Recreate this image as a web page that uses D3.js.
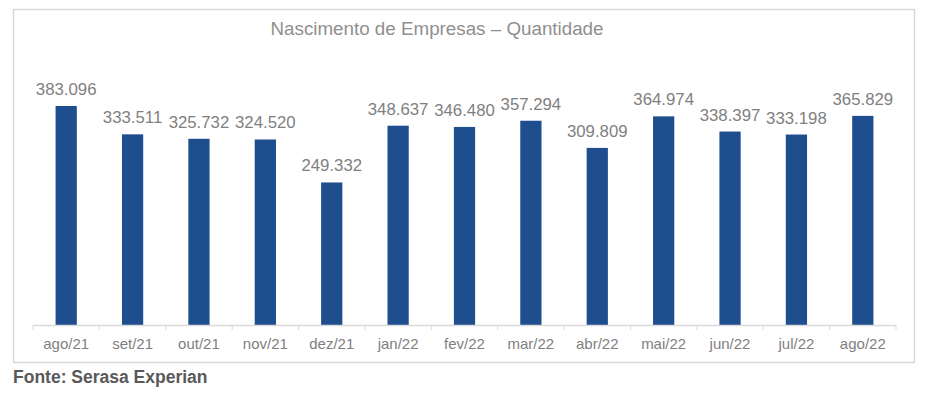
<!DOCTYPE html>
<html>
<head>
<meta charset="utf-8">
<script src="https://cdn.jsdelivr.net/npm/d3@7"></script>
<style>
  body { margin: 0; background: #fff; }
  svg { display: block; font-family: "Liberation Sans", Arial, sans-serif; }
</style>
</head>
<body>
<div id="chart"></div>
<script>
var months = ["ago/21", "set/21", "out/21", "nov/21", "dez/21", "jan/22", "fev/22",
              "mar/22", "abr/22", "mai/22", "jun/22", "jul/22", "ago/22"];
var births = [383096, 333511, 325732, 324520, 249332, 348637, 346480,
              357294, 309809, 364974, 338397, 333198, 365829];

var width = 928, height = 396;
var margin = {left: 33, right: 32, top: 106, bottom: 71};

var svg = d3.select("#chart").append("svg")
    .attr("width", width)
    .attr("height", height);

// frame
svg.append("rect")
    .attr("x", 13.5).attr("y", 9.5)
    .attr("width", 901).attr("height", 353)
    .attr("fill", "#fff")
    .attr("stroke", "#d9d9d9")
    .attr("stroke-width", 1.5);

var x = d3.scaleBand()
    .domain(months)
    .range([margin.left, width - margin.right])
    .paddingInner(0.68)
    .paddingOuter(0.34);

var base = height - margin.bottom;
var y = d3.scaleLinear()
    .domain([0, d3.max(births)])
    .range([base, margin.top]);

var fmt = d3.formatLocale({decimal: ",", thousands: ".", grouping: [3], currency: ["", ""]}).format(",d");

svg.append("text")
    .attr("x", 437)
    .attr("y", 35)
    .attr("text-anchor", "middle")
    .style("font-size", "18.8px")
    .attr("fill", "#8f8f8f")
    .text("Nascimento de Empresas – Quantidade");

svg.selectAll("rect.bar")
    .data(births)
    .enter().append("rect")
    .attr("class", "bar")
    .attr("x", (d, i) => x(months[i]))
    .attr("y", d => y(d))
    .attr("width", x.bandwidth())
    .attr("height", d => base - y(d))
    .attr("fill", "#1f4e8f");

svg.selectAll("text.val")
    .data(births)
    .enter().append("text")
    .attr("class", "val")
    .attr("x", (d, i) => x(months[i]) + x.bandwidth() / 2)
    .attr("y", d => y(d) - 11)
    .attr("text-anchor", "middle")
    .style("font-size", "16.8px")
    .attr("fill", "#7f7f7f")
    .text(d => fmt(d));

// axis line and ticks between categories
var step = x.step();
var axis = svg.append("g");
axis.append("line")
    .attr("x1", margin.left).attr("x2", width - margin.right)
    .attr("y1", base + 0.5).attr("y2", base + 0.5)
    .attr("stroke", "#d9d9d9").attr("stroke-width", 1.5);
axis.selectAll("line.tick")
    .data(d3.range(months.length + 1))
    .enter().append("line")
    .attr("class", "tick")
    .attr("x1", i => margin.left + i * step)
    .attr("x2", i => margin.left + i * step)
    .attr("y1", base).attr("y2", base + 5)
    .attr("stroke", "#d9d9d9");

axis.selectAll("text")
    .data(months)
    .enter().append("text")
    .attr("x", d => x(d) + x.bandwidth() / 2)
    .attr("y", base + 24)
    .attr("text-anchor", "middle")
    .style("font-size", "15px")
    .attr("fill", "#7f7f7f")
    .text(d => d);

svg.append("text")
    .attr("x", 13)
    .attr("y", 383)
    .style("font-size", "17.5px")
    .style("font-weight", "bold")
    .attr("fill", "#595959")
    .text("Fonte: Serasa Experian");
</script>
</body>
</html>
